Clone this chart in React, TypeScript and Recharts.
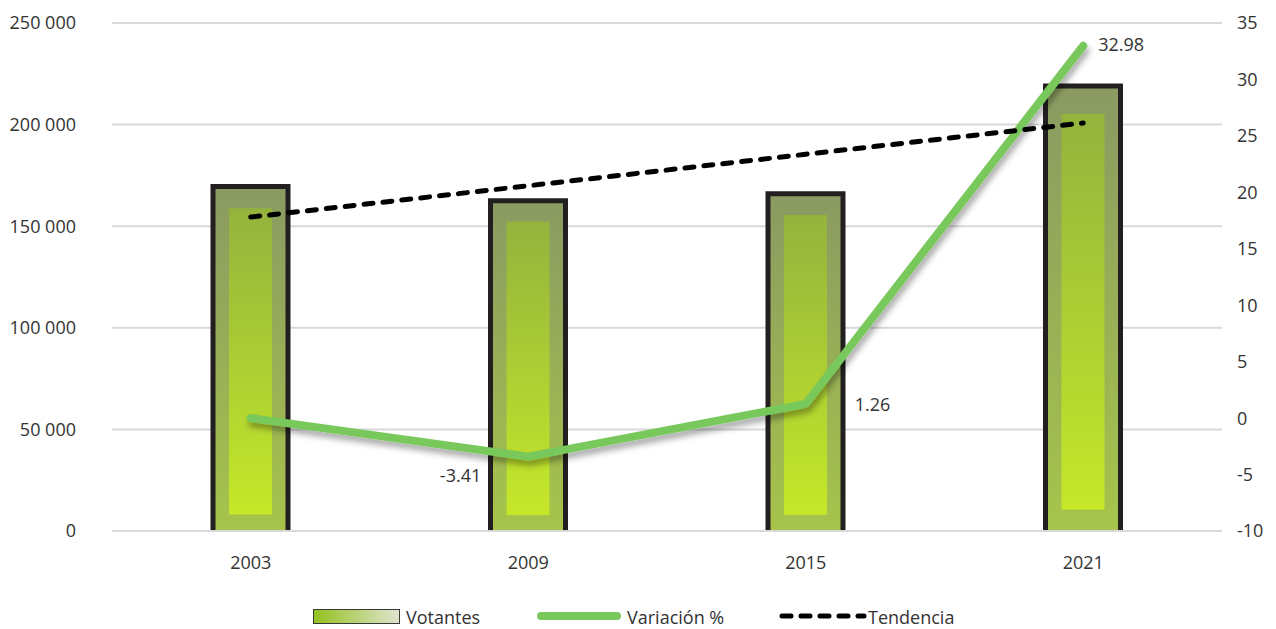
import React from 'react';
import { ComposedChart, Bar, Line, XAxis, YAxis, CartesianGrid, LabelList } from 'recharts';

const years = ['2003', '2009', '2015', '2021'];
const votantes = [169500, 162500, 166000, 219000];
const variacion = [0, -3.41, 1.26, 32.98];
const tendencia = [154500, 169900, 185400, 200800];
const leftTicks = [0, 50000, 100000, 150000, 200000, 250000];
const rightTicks = [-10, -5, 0, 5, 10, 15, 20, 25, 30, 35];
const seriesNames = ['Votantes', 'Variación %', 'Tendencia'];

const data = years.map((y, i) => ({
  year: y,
  votantes: votantes[i],
  variacion: variacion[i],
  tendencia: tendencia[i],
}));

// label placement (style only)
const labelOffsets = [
  { dx: 0, dy: 0, anchor: 'start', hide: true },
  { dx: -47, dy: 18, anchor: 'end', hide: false },
  { dx: 49, dy: 0, anchor: 'start', hide: false },
  { dx: 15, dy: -2, anchor: 'start', hide: false },
];

const FONT = '"Open Sans", "Noto Sans", sans-serif';
const TEXT = '#333333';
const FS = 18;

const fmtLeft = (v: number) => (v === 0 ? '0' : `${Math.floor(v / 1000)} ${String(v % 1000).padStart(3, '0')}`);

const BarShape = (props: any) => {
  const { x, y, width, height } = props;
  if (!height || height <= 0) return null;
  const ti = height * 0.063;
  const bi = height * 0.048;
  const si = 16;
  return (
    <g>
      <rect x={x} y={y} width={width} height={height} fill="url(#outerGrad)" />
      <rect x={x + si} y={y + ti} width={width - 2 * si} height={height - ti - bi} fill="url(#innerGrad)" />
      <path
        d={`M${x},${y + height} L${x},${y} L${x + width},${y} L${x + width},${y + height}`}
        fill="none"
        stroke="#231f20"
        strokeWidth={5}
      />
    </g>
  );
};

const VarLabel = (props: any) => {
  const { x, y, index, value } = props;
  const o = labelOffsets[index];
  if (!o || o.hide) return null;
  return (
    <text
      x={x + o.dx}
      y={y + o.dy}
      textAnchor={o.anchor}
      dominantBaseline="central"
      fontFamily={FONT}
      fontSize={FS}
      fill={TEXT}
    >
      {value}
    </text>
  );
};

const Legend = () => (
  <svg width={1276} height={30} style={{ position: 'absolute', left: 0, top: 601 }}>
    <defs>
      <linearGradient id="legGrad" x1="0" y1="0" x2="1" y2="0">
        <stop offset="0%" stopColor="#94c11e" />
        <stop offset="100%" stopColor="#dfe4cf" />
      </linearGradient>
    </defs>
    <rect x={313.5} y={8.5} width={86} height={14} fill="url(#legGrad)" stroke="#3a3a3a" strokeWidth={1} />
    <text x={406} y={16} dominantBaseline="central" fontFamily={FONT} fontSize={FS} fill={TEXT}>
      {seriesNames[0]}
    </text>
    <line x1={541} y1={15} x2={617} y2={15} stroke="#78c85c" strokeWidth={8} strokeLinecap="round" />
    <text x={627} y={16} dominantBaseline="central" fontFamily={FONT} fontSize={FS} fill={TEXT}>
      {seriesNames[1]}
    </text>
    <line
      x1={782}
      y1={15}
      x2={864}
      y2={15}
      stroke="#000"
      strokeWidth={5}
      strokeDasharray="9 10"
      strokeLinecap="round"
    />
    <text x={868} y={16} dominantBaseline="central" fontFamily={FONT} fontSize={FS} fill={TEXT}>
      {seriesNames[2]}
    </text>
  </svg>
);

export default function App() {
  return (
    <div style={{ position: 'relative', width: 1276, height: 629, background: '#fff' }}>
      <style>{`body{margin:0}`}</style>
      <ComposedChart
        width={1276}
        height={629}
        data={data}
        margin={{ top: 23, right: 0, left: 0, bottom: 68 }}
        barCategoryGap={0}
      >
        <defs>
          <linearGradient id="outerGrad" x1="0" y1="0" x2="0" y2="1">
            <stop offset="0%" stopColor="#8a9a62" />
            <stop offset="100%" stopColor="#a6c44b" />
          </linearGradient>
          <linearGradient id="innerGrad" x1="0" y1="0" x2="0" y2="1">
            <stop offset="0%" stopColor="#93b33d" />
            <stop offset="100%" stopColor="#c5e829" />
          </linearGradient>
          <filter id="lineShadow" x="-10%" y="-10%" width="120%" height="130%">
            <feDropShadow dx="2" dy="5" stdDeviation="3" floodColor="#000" floodOpacity="0.35" />
          </filter>
        </defs>
        <CartesianGrid vertical={false} stroke="#d9d9d9" strokeWidth={2} yAxisId="left" />
        <XAxis
          dataKey="year"
          height={30}
          axisLine={{ stroke: '#d9d9d9', strokeWidth: 2 }}
          tickLine={false}
          tickSize={0}
          tickMargin={25}
          tick={{ fontFamily: FONT, fontSize: FS, fill: TEXT }}
        />
        <YAxis
          yAxisId="left"
          orientation="left"
          width={112}
          domain={[0, 250000]}
          ticks={leftTicks}
          tickFormatter={fmtLeft}
          axisLine={false}
          tickLine={false}
          tickSize={0}
          tickMargin={36}
          tick={{ fontFamily: FONT, fontSize: FS, fill: TEXT }}
        />
        <YAxis
          yAxisId="right"
          orientation="right"
          width={54}
          domain={[-10, 35]}
          ticks={rightTicks}
          axisLine={false}
          tickLine={false}
          tickSize={0}
          tickMargin={15}
          tick={{ fontFamily: FONT, fontSize: FS, fill: TEXT }}
        />
        <Bar
          yAxisId="left"
          dataKey="votantes"
          name={seriesNames[0]}
          barSize={75}
          shape={<BarShape />}
          isAnimationActive={false}
        />
        <Line
          yAxisId="right"
          dataKey="variacion"
          name={seriesNames[1]}
          stroke="#78c85c"
          strokeWidth={8}
          strokeLinecap="round"
          strokeLinejoin="round"
          dot={false}
          activeDot={false}
          filter="url(#lineShadow)"
          isAnimationActive={false}
        >
          <LabelList dataKey="variacion" content={<VarLabel />} />
        </Line>
        <Line
          yAxisId="left"
          dataKey="tendencia"
          name={seriesNames[2]}
          stroke="#000"
          strokeWidth={5}
          strokeDasharray="9 10"
          strokeLinecap="round"
          dot={false}
          activeDot={false}
          isAnimationActive={false}
        />
      </ComposedChart>
      <Legend />
    </div>
  );
}
